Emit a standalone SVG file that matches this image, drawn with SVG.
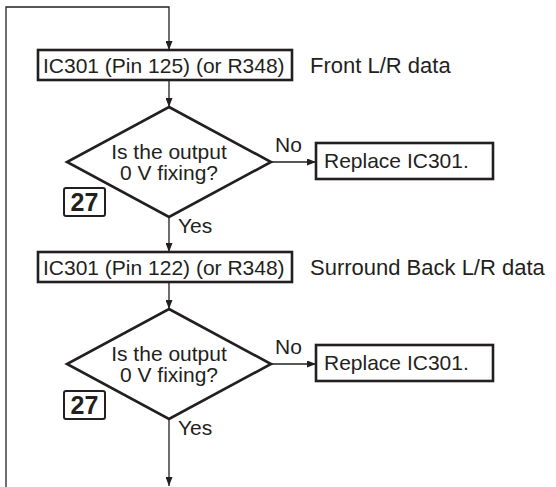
<svg xmlns="http://www.w3.org/2000/svg" width="556" height="487" viewBox="0 0 556 487">
<style>
text{font-family:"Liberation Sans",Arial,sans-serif;fill:#231f20}
.t{font-size:21px}
.s{font-size:22px}
.box{fill:#fff;stroke:#231f20;stroke-width:2.6}
.dia{fill:#fff;stroke:#231f20;stroke-width:2.6}
.ref{fill:#fff;stroke:#231f20;stroke-width:2}
.num{font-size:25px;font-weight:bold;text-anchor:middle}
.c{fill:none;stroke:#231f20;stroke-width:1.3}
</style>
<defs>
<marker id="ah" markerUnits="userSpaceOnUse" markerWidth="9" markerHeight="7" refX="9" refY="3.5" orient="auto">
<path d="M0,0 L9,3.5 L0,7 z" fill="#231f20"/>
</marker>
</defs>
<rect width="556" height="487" fill="#fff"/>
<g id="connectors">
<polyline class="c" points="6,487 6,7 169,7 169,50" marker-end="url(#ah)"/>
<line class="c" x1="169" y1="80" x2="169" y2="107" marker-end="url(#ah)"/>
<line class="c" x1="271" y1="162" x2="316" y2="162" marker-end="url(#ah)"/>
<line class="c" x1="169" y1="217" x2="169" y2="252" marker-end="url(#ah)"/>
<line class="c" x1="169" y1="282" x2="169" y2="309" marker-end="url(#ah)"/>
<line class="c" x1="271" y1="364" x2="316" y2="364" marker-end="url(#ah)"/>
<line class="c" x1="169" y1="419" x2="169" y2="486" marker-end="url(#ah)"/>
<text class="t" x="275" y="152">No</text>
<text class="t" x="178" y="233">Yes</text>
<text class="t" x="275" y="354">No</text>
<text class="t" x="178" y="435">Yes</text>
</g>
<g id="box1">
<rect class="box" x="38" y="50" width="254" height="30"/>
<text class="t" x="43" y="73">IC301 (Pin 125) (or R348)</text>
<text class="s" x="310" y="73">Front L/R data</text>
</g>
<g id="dec1">
<polygon class="dia" points="169,107 271,162 169,217 67,162"/>
<text class="t" x="169" y="159" text-anchor="middle">Is the output</text>
<text class="t" x="169" y="180" text-anchor="middle">0 V fixing?</text>
</g>
<g id="ref1">
<rect class="ref" x="64" y="188" width="41" height="28" rx="2"/>
<text class="num" x="84.5" y="211">27</text>
</g>
<g id="rep1">
<rect class="box" x="316" y="143" width="177" height="36"/>
<text class="t" x="324" y="168">Replace IC301.</text>
</g>
<g id="box2">
<rect class="box" x="38" y="252" width="254" height="30"/>
<text class="t" x="43" y="275">IC301 (Pin 122) (or R348)</text>
<text class="s" x="310" y="275">Surround Back L/R data</text>
</g>
<g id="dec2">
<polygon class="dia" points="169,309 271,364 169,419 67,364"/>
<text class="t" x="169" y="361" text-anchor="middle">Is the output</text>
<text class="t" x="169" y="382" text-anchor="middle">0 V fixing?</text>
</g>
<g id="ref2">
<rect class="ref" x="64" y="391" width="41" height="28" rx="2"/>
<text class="num" x="84.5" y="414">27</text>
</g>
<g id="rep2">
<rect class="box" x="316" y="345" width="177" height="36"/>
<text class="t" x="324" y="370">Replace IC301.</text>
</g>
</svg>
